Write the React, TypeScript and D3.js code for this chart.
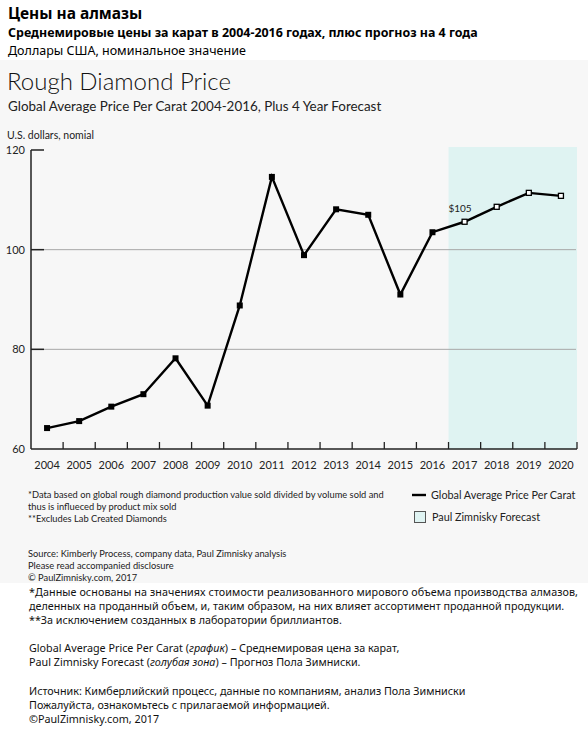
import React from "react";
import * as d3 from "d3";

const years = [
  "2004", "2005", "2006", "2007", "2008", "2009", "2010", "2011", "2012",
  "2013", "2014", "2015", "2016", "2017", "2018", "2019", "2020",
];
const actualYears = ["2004", "2005", "2006", "2007", "2008", "2009", "2010", "2011", "2012", "2013", "2014", "2015", "2016"];
const actualValues = [64.2, 65.6, 68.5, 71.0, 78.2, 68.7, 88.8, 114.6, 98.9, 108.1, 107.0, 91.0, 103.5];
const forecastYears = ["2017", "2018", "2019", "2020"];
const forecastValues = [105.6, 108.6, 111.4, 110.8];
const yTicks = [60, 80, 100, 120];
const gridValues = [80, 100];

const headerLines = [
  "Цены на алмазы",
  "Среднемировые цены за карат в 2004-2016 годах, плюс прогноз на 4 года",
  "Доллары США, номинальное значение",
];
const footnotesEn = [
  "*Data based on global rough diamond production value sold divided by volume sold and",
  "thus is influeced by product mix sold",
  "**Excludes Lab Created Diamonds",
];
const sourceEn = [
  "Source: Kimberly Process, company data, Paul Zimnisky analysis",
  "Please read accompanied disclosure",
  "© PaulZimnisky.com, 2017",
];
const notesRu1 = [
  "*Данные основаны на значениях стоимости реализованного мирового объема производства алмазов,",
  "деленных на проданный объем, и, таким образом, на них влияет ассортимент проданной продукции.",
  "**За исключением созданных в лаборатории бриллиантов.",
];
const notesRu3 = [
  "Источник: Кимберлийский процесс, данные по компаниям, анализ Пола Зимниски",
  "Пожалуйста, ознакомьтесь с прилагаемой информацией.",
  "©PaulZimnisky.com, 2017",
];

const W = 588;
const H = 735;
const X0 = 31;
const X1 = 577;
const Y0 = 449;
const Y1 = 150;

export default function App() {
  const x = d3.scaleBand<string>().domain(years).range([X0, X1]).padding(0);
  const y = d3.scaleLinear().domain([60, 120]).range([Y0, Y1]);
  const cx = (yr: string) => (x(yr) as number) + x.bandwidth() / 2;

  const allPts = [
    ...actualYears.map((yr, i) => ({ yr, v: actualValues[i] })),
    ...forecastYears.map((yr, i) => ({ yr, v: forecastValues[i] })),
  ];
  const line = d3
    .line<{ yr: string; v: number }>()
    .x((d) => cx(d.yr))
    .y((d) => y(d.v));

  const fStart = x(forecastYears[0]) as number;
  const fEnd = X1;
  const sans = "Lato, 'Open Sans', sans-serif";
  const ru = "'Noto Sans', 'Open Sans', sans-serif";
  const ms = 6;

  return (
    <svg
      width={W}
      height={H}
      style={{ position: "absolute", left: 0, top: 0, background: "#ffffff" }}
    >
      <rect x={0} y={0} width={W} height={H} fill="#ffffff" />
      <text x={8} y={19} fontFamily={ru} fontWeight={700} fontSize={15.5} fill="#000">
        {headerLines[0]}
      </text>
      <text x={8} y={37} fontFamily={ru} fontWeight={700} fontSize={12.45} fill="#000">
        {headerLines[1]}
      </text>
      <text x={8} y={54.5} fontFamily={ru} fontSize={12.5} fill="#000">
        {headerLines[2]}
      </text>

      <rect x={0} y={60} width={W} height={523} fill="#f7f7f7" />

      <text x={7} y={90} fontFamily={sans} fontSize={24} fontWeight={300} fill="#111">
        Rough Diamond Price
      </text>
      <text x={8} y={111} fontFamily={sans} fontSize={13.4} fill="#222">
        Global Average Price Per Carat 2004-2016, Plus 4 Year Forecast
      </text>
      <text x={7} y={139} fontFamily={sans} fontSize={10.5} fill="#222">
        U.S. dollars, nomial
      </text>

      {/* forecast zone */}
      <rect x={fStart} y={147} width={fEnd - fStart} height={Y0 - 147} fill="#dff3f2" />

      {/* gridlines */}
      {gridValues.map((v) => (
        <line key={v} x1={X0} x2={X1 - 1} y1={y(v)} y2={y(v)} stroke="#a8a8a8" strokeWidth={1} />
      ))}
      {/* y ticks */}
      {yTicks.filter((v) => v !== 60).map((v) => (
        <line key={"t" + v} x1={X0} x2={X0 + 13} y1={y(v)} y2={y(v)} stroke="#222" strokeWidth={1.5} />
      ))}
      {yTicks.map((v) => (
        <text key={"l" + v} x={25} y={y(v)} dy="0.35em" textAnchor="end" fontFamily={sans} fontSize={11} fill="#222">
          {v}
        </text>
      ))}
      {/* axes */}
      <line x1={X0} x2={X0} y1={Y1} y2={Y0} stroke="#222" strokeWidth={1.5} />
      <line x1={X0} x2={X1} y1={Y0} y2={Y0} stroke="#222" strokeWidth={1.5} />
      {years.slice(1).map((yr) => (
        <line key={"xt" + yr} x1={x(yr) as number} x2={x(yr) as number} y1={Y0} y2={Y0 - 7} stroke="#222" strokeWidth={1.3} />
      ))}
      <line x1={X1} x2={X1} y1={Y0} y2={Y0 - 7} stroke="#222" strokeWidth={1.3} />
      {years.map((yr) => (
        <text key={"xl" + yr} x={cx(yr)} y={469} textAnchor="middle" fontFamily={sans} fontSize={11} fill="#222">
          {yr}
        </text>
      ))}

      {/* series line */}
      <path d={line(allPts) || ""} fill="none" stroke="#000" strokeWidth={2.4} strokeLinejoin="miter" />
      {actualYears.map((yr, i) => (
        <rect key={"m" + yr} x={cx(yr) - ms / 2} y={y(actualValues[i]) - ms / 2} width={ms} height={ms} fill="#000" />
      ))}
      {forecastYears.map((yr, i) => (
        <rect key={"f" + yr} x={cx(yr) - ms / 2 + 0.5} y={y(forecastValues[i]) - ms / 2 + 0.5} width={ms - 1} height={ms - 1} fill="#fff" stroke="#000" strokeWidth={1.3} />
      ))}
      <text x={cx(forecastYears[0]) + 7} y={y(forecastValues[0]) - 10} textAnchor="end" fontFamily={sans} fontSize={10} fill="#222">
        $105
      </text>

      {/* footnotes */}
      {footnotesEn.map((t, i) => (
        <text key={"fe" + i} x={28} y={498 + i * 12} fontFamily={sans} fontSize={9.3} fill="#222">
          {t}
        </text>
      ))}
      {sourceEn.map((t, i) => (
        <text key={"se" + i} x={28} y={557 + i * 12} fontFamily={sans} fontSize={9.3} fill="#222">
          {t}
        </text>
      ))}

      {/* legend */}
      <line x1={412} x2={426} y1={495} y2={495} stroke="#000" strokeWidth={2.4} />
      <text x={431} y={495} dy="0.35em" fontFamily={sans} fontSize={10.8} fill="#222">
        Global Average Price Per Carat
      </text>
      <rect x={414.5} y={511.5} width={11} height={11} fill="#dff3f2" stroke="#555" strokeWidth={1} />
      <text x={432} y={517} dy="0.35em" fontFamily={sans} fontSize={10.8} fill="#222">
        Paul Zimnisky Forecast
      </text>

      {/* Russian notes */}
      <text x={29} y={596} fontFamily={ru} fontSize={10.75} fill="#111" textLength={549} lengthAdjust="spacing">
        {notesRu1[0]}
      </text>
      {notesRu1.slice(1).map((t, i) => (
        <text key={"r1" + i} x={29} y={610 + i * 14} fontFamily={ru} fontSize={10.75} fill="#111">
          {t}
        </text>
      ))}
      <text x={29} y={652} fontFamily={ru} fontSize={10.75} fill="#111">
        Global Average Price Per Carat (<tspan fontStyle="italic">график</tspan>) – Среднемировая цена за карат,
      </text>
      <text x={29} y={666} fontFamily={ru} fontSize={10.75} fill="#111">
        Paul Zimnisky Forecast (<tspan fontStyle="italic">голубая зона</tspan>) – Прогноз Пола Зимниски.
      </text>
      {notesRu3.map((t, i) => (
        <text key={"r3" + i} x={29} y={695 + i * 14} fontFamily={ru} fontSize={10.75} fill="#111">
          {t}
        </text>
      ))}
    </svg>
  );
}
